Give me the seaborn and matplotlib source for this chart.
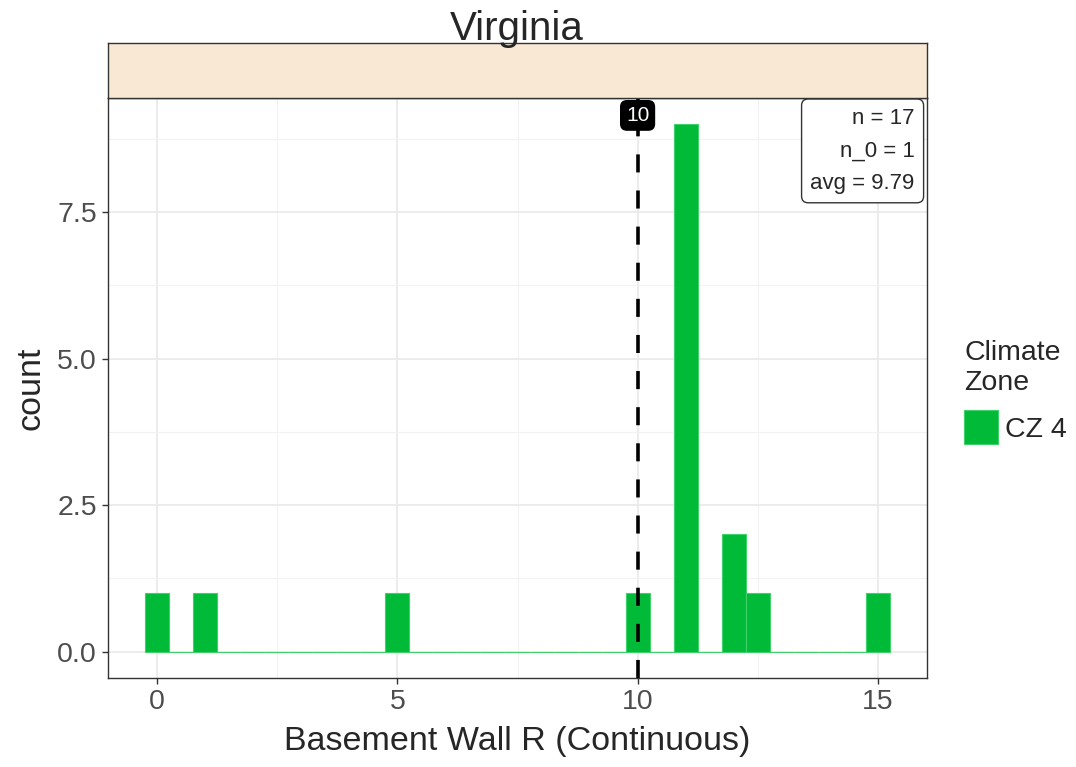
import numpy as np
import pandas as pd
import matplotlib
matplotlib.use("Agg")
import matplotlib.pyplot as plt
import seaborn as sns

# Basement wall R-values observed in Virginia (one entry per home)
r_values = [0, 1, 5, 10, 11, 11, 11, 11, 11, 11, 11, 11, 11, 12, 12, 12.5, 15]
zones = ["CZ 4"] * len(r_values)
state = "Virginia"
ref_value = 10
stats_lines = ["n = 17", "n_0 = 1", "avg = 9.79"]
zone_colors = {"CZ 4": "#00BA38"}

df = pd.DataFrame({"r": r_values, "zone": zones})

sns.set_style("white")
plt.rcParams["font.family"] = ["Liberation Sans", "DejaVu Sans"]

fig = plt.figure(figsize=(10.76, 7.67), dpi=100)
ax = fig.add_axes([108 / 1076, 89 / 767, 819 / 1076, 580 / 767])

sns.histplot(data=df, x="r", hue="zone", palette=zone_colors, binwidth=0.5,
             binrange=(-0.25, 15.25), alpha=1, edgecolor="#3fd16a", linewidth=0.8,
             ax=ax)

# ggplot-like panel
ax.set_xlim(-1.025, 16.025)
ax.set_ylim(-0.45, 9.45)
ax.set_xticks([0, 5, 10, 15])
ax.set_xticks([2.5, 7.5, 12.5], minor=True)
ax.set_yticks([0, 2.5, 5, 7.5])
ax.set_yticks([1.25, 3.75, 6.25, 8.75], minor=True)
ax.set_yticklabels(["0.0", "2.5", "5.0", "7.5"])
ax.grid(True, which="major", color="#EBEBEB", linewidth=1.3)
ax.grid(True, which="minor", color="#F2F2F2", linewidth=0.8)
ax.set_axisbelow(True)
for sp in ax.spines.values():
    sp.set_color("#333333")
    sp.set_linewidth(1.0)
ax.tick_params(axis="both", which="major", length=4, width=1, color="#333333",
               labelsize=20.5, labelcolor="#4D4D4D", direction="out", pad=4,
               bottom=True, left=True)
ax.tick_params(axis="both", which="minor", length=0)
ax.set_xlabel("Basement Wall R (Continuous)", fontsize=24.5, labelpad=8)
ax.set_ylabel("count", fontsize=24.5, labelpad=8)

# reference line and its label
ax.axvline(ref_value, color="black", linewidth=2.6, linestyle=(0, (5, 5)), zorder=3)
ax.text(ref_value, 0.97, str(ref_value), transform=ax.get_xaxis_transform(),
        ha="center", va="center", color="white", fontsize=15, zorder=5,
        bbox=dict(boxstyle="round,pad=0.25,rounding_size=0.3", fc="black", ec="black"))

# summary box
ax.text(0.985, 0.983, "\n".join(stats_lines), transform=ax.transAxes,
        ha="right", va="top", fontsize=16, linespacing=1.72, zorder=5,
        bbox=dict(boxstyle="round,pad=0.4,rounding_size=0.3", fc="white",
                  ec="#333333", lw=1))

# facet strip and title
strip = fig.add_axes([108 / 1076, 669 / 767, 819 / 1076, 55 / 767])
strip.set_facecolor("#F8E8D4")
strip.set_xticks([])
strip.set_yticks([])
for sp in strip.spines.values():
    sp.set_color("#333333")
    sp.set_linewidth(1.0)
fig.text(517 / 1076, 1 - 29 / 767, state, ha="center", va="center", fontsize=29)

sns.move_legend(ax, "upper left", bbox_to_anchor=(964 / 1076, 1 - 340 / 767),
                bbox_transform=fig.transFigure, frameon=False, title="Climate\nZone",
                fontsize=20.5, title_fontsize=20.5, alignment="left", borderpad=0,
                borderaxespad=0, handlelength=1.2, handleheight=1.45,
                handletextpad=0.25)

fig.savefig("out.png", dpi=100)
